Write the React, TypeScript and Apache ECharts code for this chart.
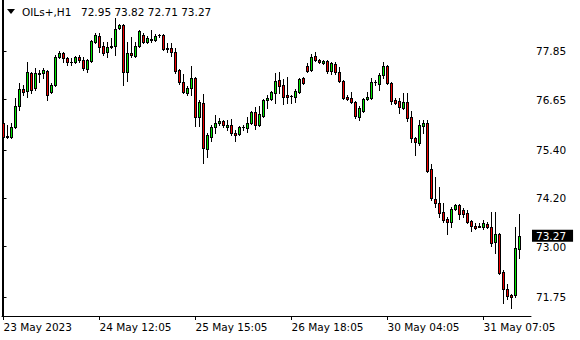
import React, { useEffect, useRef } from "react";
import * as echarts from "echarts";

const SYMBOL = "OILs+,H1";

const OPEN = [
  76.06, 75.72, 75.72, 75.97, 76.49, 76.91, 76.86, 77.30, 76.93, 77.30,
  77.30, 77.35, 76.83, 77.01, 77.70, 77.80, 77.68, 77.58, 77.58, 77.70,
  77.63, 77.40, 77.60, 78.07, 78.22, 77.97, 77.83, 77.95, 77.97, 78.42,
  78.50, 77.33, 77.80, 77.73, 77.97, 78.25, 78.07, 78.12, 78.12, 78.25,
  78.25, 77.92, 77.92, 77.83, 77.38, 77.08, 76.81, 76.93, 77.18, 76.21,
  76.56, 75.42, 75.72, 75.97, 76.06, 76.11, 75.97, 76.02, 75.82, 75.79,
  75.97, 75.94, 76.06, 76.34, 76.02, 76.24, 76.64, 76.66, 76.81, 77.13,
  77.01, 76.76, 76.73, 76.71, 76.83, 77.18, 77.48, 77.38, 77.73, 77.63,
  77.55, 77.60, 77.35, 77.53, 77.33, 77.11, 76.71, 76.68, 76.59, 76.21,
  76.36, 76.66, 76.68, 77.08, 77.03, 77.26, 77.48, 77.06, 76.64, 76.61,
  76.44, 76.59, 76.21, 75.69, 75.57, 75.99, 76.06, 74.92, 74.18, 74.08,
  73.86, 73.68, 73.61, 73.93, 74.03, 73.91, 73.83, 73.63, 73.51, 73.51,
  73.48, 73.56, 73.48, 73.11, 73.31, 72.37, 71.95, 71.80, 71.80, 72.95,
];

const HIGH = [
  76.08, 76.02, 76.06, 76.68, 77.06, 77.01, 77.58, 77.33, 77.43, 77.38,
  77.43, 77.38, 77.06, 77.75, 77.85, 77.83, 77.70, 77.68, 77.72, 77.75,
  77.70, 77.65, 78.12, 78.30, 78.30, 78.07, 78.07, 78.17, 78.67, 78.52,
  78.52, 78.07, 78.20, 78.07, 78.37, 78.30, 78.22, 78.37, 78.27, 78.27,
  78.27, 78.05, 78.05, 77.92, 77.40, 77.28, 76.98, 77.48, 77.21, 76.64,
  76.78, 75.82, 76.02, 76.26, 76.19, 76.14, 76.14, 76.16, 75.89, 75.99,
  76.02, 76.21, 76.36, 76.46, 76.49, 76.66, 76.76, 76.86, 77.30, 77.33,
  77.16, 77.21, 76.76, 76.91, 77.18, 77.21, 77.55, 77.78, 77.83, 77.65,
  77.63, 77.63, 77.58, 77.58, 77.45, 77.13, 76.76, 76.83, 76.61, 76.49,
  76.68, 76.83, 77.18, 77.13, 77.30, 77.58, 77.50, 77.08, 76.68, 76.68,
  76.81, 76.81, 76.36, 75.72, 76.14, 76.14, 76.14, 75.05, 74.72, 74.48,
  74.08, 73.73, 73.98, 74.05, 74.05, 73.96, 73.91, 73.65, 73.58, 73.58,
  73.66, 73.61, 73.86, 73.86, 73.34, 72.42, 72.07, 71.82, 73.48, 73.82,
];

const LOW = [
  75.64, 75.69, 75.70, 75.94, 76.39, 76.76, 76.71, 76.81, 76.88, 77.08,
  77.18, 76.64, 76.81, 76.98, 77.68, 77.58, 77.50, 77.50, 77.55, 77.58,
  77.38, 77.33, 77.58, 78.05, 77.83, 77.75, 77.70, 77.92, 77.75, 78.40,
  77.01, 77.11, 77.70, 77.70, 77.95, 78.05, 78.05, 78.07, 78.10, 78.20,
  77.88, 77.83, 77.73, 77.30, 77.03, 76.81, 76.76, 76.76, 75.99, 75.99,
  75.07, 75.22, 75.62, 75.82, 76.02, 75.97, 75.89, 75.77, 75.62, 75.77,
  75.89, 75.84, 76.04, 75.92, 75.99, 76.21, 76.44, 76.64, 76.56, 76.81,
  76.54, 76.56, 76.56, 76.59, 76.81, 77.03, 77.33, 77.35, 77.60, 77.55,
  77.53, 77.30, 77.28, 77.28, 77.08, 76.66, 76.64, 76.56, 76.19, 76.14,
  76.34, 76.64, 76.66, 77.01, 76.88, 77.18, 77.03, 76.54, 76.54, 76.31,
  76.41, 76.11, 75.59, 75.27, 75.52, 75.82, 74.85, 74.16, 73.98, 73.73,
  73.61, 73.31, 73.48, 73.91, 73.68, 73.73, 73.58, 73.39, 73.44, 73.48,
  73.44, 73.46, 73.01, 72.84, 72.32, 71.60, 71.70, 71.48, 71.75, 72.71,
];

const CLOSE = [
  75.72, 75.74, 75.97, 76.49, 76.91, 76.83, 77.33, 76.88, 77.30, 77.28,
  77.38, 76.76, 77.01, 77.70, 77.80, 77.68, 77.58, 77.57, 77.70, 77.63,
  77.43, 77.63, 78.10, 78.25, 77.95, 77.80, 77.95, 77.97, 78.40, 78.50,
  77.33, 77.80, 77.75, 77.97, 78.35, 78.07, 78.17, 78.15, 78.22, 78.24,
  77.90, 77.91, 77.83, 77.35, 77.08, 76.83, 76.93, 77.18, 76.21, 76.59,
  75.44, 75.77, 75.97, 76.06, 76.11, 76.02, 76.02, 75.82, 75.77, 75.97,
  75.98, 76.06, 76.34, 76.02, 76.29, 76.64, 76.68, 76.83, 77.11, 76.98,
  76.71, 76.71, 76.74, 76.86, 77.16, 77.06, 77.35, 77.70, 77.63, 77.58,
  77.60, 77.35, 77.55, 77.33, 77.11, 76.68, 76.66, 76.59, 76.24, 76.44,
  76.66, 76.71, 77.08, 77.09, 77.26, 77.48, 77.06, 76.61, 76.56, 76.46,
  76.59, 76.19, 75.69, 75.59, 76.02, 76.06, 74.87, 74.21, 74.08, 73.83,
  73.66, 73.61, 73.93, 74.03, 73.81, 73.81, 73.61, 73.51, 73.46, 73.50,
  73.58, 73.48, 73.09, 73.31, 72.35, 71.95, 71.77, 71.75, 72.97, 73.27,
];

const TIME_LABELS = ["23 May 2023", "24 May 12:05", "25 May 15:05", "26 May 18:05", "30 May 04:05", "31 May 07:05"];
const TIME_LABEL_BARS = [0, 24, 48, 72, 96, 120];
const PRICE_TICKS = [77.85, 76.65, 75.4, 74.2, 73.0, 71.75];

const FONT = "DejaVu Sans";
const BULL = "#00e600";
const BEAR = "#f00000";

export default function App() {
  const ref = useRef<HTMLDivElement>(null);

  useEffect(() => {
    if (!ref.current) return;
    const chart = echarts.init(ref.current, null, { renderer: "svg" });
    const last = CLOSE.length - 1;
    const data = OPEN.map((o, i) => [i, o, CLOSE[i], LOW[i], HIGH[i]]);
    const header = [OPEN[last], HIGH[last], LOW[last], CLOSE[last]].map((v) => v.toFixed(2)).join(" ");

    const px = (x: number, y: number, w: number, h: number, fill: string) => ({
      type: "rect",
      shape: { x, y, width: w, height: h },
      style: { fill, stroke: null, lineWidth: 0 },
      silent: true,
    });

    const renderItem = (params: any, api: any) => {
      const x = api.value(0);
      const o = api.value(1);
      const c = api.value(2);
      const l = api.value(3);
      const h = api.value(4);
      const pO = api.coord([x, o]);
      const pC = api.coord([x, c]);
      const pL = api.coord([x, l]);
      const pH = api.coord([x, h]);
      const cx = Math.round(pO[0] - 0.5);
      const yH = Math.round(pH[1]);
      const yL = Math.round(pL[1]);
      const yTop = Math.round(Math.min(pO[1], pC[1]));
      const yBot = Math.round(Math.max(pO[1], pC[1]));
      const bh = yBot - yTop + 1;
      const children: any[] = [];
      if (yTop > yH) children.push(px(cx, yH, 1, yTop - yH, "#000"));
      if (yL > yBot) children.push(px(cx, yBot + 1, 1, yL - yBot, "#000"));
      if (bh >= 3) {
        children.push(px(cx - 1, yTop, 3, bh, c >= o ? BULL : BEAR));
        children.push(px(cx - 1, yTop, 1, bh, "#000"));
        children.push(px(cx + 1, yTop, 1, bh, "#000"));
        children.push(px(cx, yTop, 1, 1, "#000"));
        children.push(px(cx, yBot, 1, 1, "#000"));
      } else {
        children.push(px(cx - 1, yTop, 3, bh, "#000"));
      }
      return { type: "group", children };
    };

    chart.setOption({
      animation: false,
      backgroundColor: "#fff",
      textStyle: { fontFamily: FONT },
      grid: { left: 2, right: 49, top: 0, bottom: 24 },
      xAxis: {
        type: "value",
        min: -0.375,
        max: 131.875,
        axisLine: { show: true, lineStyle: { color: "#000", width: 1 } },
        axisTick: {
          show: true,
          length: 4,
          customValues: TIME_LABEL_BARS,
          lineStyle: { color: "#000" },
        },
        axisLabel: {
          customValues: TIME_LABEL_BARS,
          formatter: (v: number) => {
            const k = TIME_LABEL_BARS.indexOf(Math.round(v));
            return k >= 0 ? TIME_LABELS[k] : "";
          },
          align: "left",
          color: "#000",
          fontFamily: FONT,
          fontSize: 10.5,
          margin: 5,
        },
        splitLine: { show: false },
      },
      yAxis: [
        {
          type: "value",
          position: "right",
          min: 71.28,
          max: 79.12,
          axisLine: { show: true, lineStyle: { color: "#000", width: 1 } },
          axisTick: {
            show: true,
            length: 3,
            customValues: PRICE_TICKS,
            lineStyle: { color: "#000" },
          },
          axisLabel: {
            customValues: PRICE_TICKS,
            formatter: (v: number) => v.toFixed(2),
            color: "#000",
            fontFamily: FONT,
            fontSize: 10.5,
            margin: 5,
          },
          splitLine: { show: false },
        },
        {
          type: "value",
          position: "left",
          min: 71.28,
          max: 79.12,
          axisLine: { show: true, lineStyle: { color: "#000", width: 1 } },
          axisTick: { show: false },
          axisLabel: { show: false },
          splitLine: { show: false },
        },
      ],
      series: [
        {
          type: "custom",
          data,
          encode: { x: 0, y: [1, 2, 3, 4] },
          renderItem,
          markLine: {
            silent: true,
            symbol: "none",
            animation: false,
            lineStyle: { color: "transparent", width: 0 },
            label: {
              show: true,
              position: "end",
              distance: 1,
              formatter: CLOSE[last].toFixed(2),
              backgroundColor: "#000",
              color: "#fff",
              fontFamily: FONT,
              fontSize: 10.5,
              padding: [1, 7, 0, 4],
            },
            data: [{ yAxis: CLOSE[last] }],
          },
        },
      ],
      graphic: [
        {
          type: "polygon",
          shape: { points: [[7, 9], [15, 9], [11, 14]] },
          style: { fill: "#000" },
        },
        {
          type: "text",
          x: 22,
          y: 12,
          style: { text: SYMBOL, fill: "#000", font: `10.5px '${FONT}'`, verticalAlign: "middle" },
        },
        {
          type: "text",
          x: 81,
          y: 12,
          style: { text: header, fill: "#000", font: `10.5px '${FONT}'`, verticalAlign: "middle" },
        },
      ],
    });

    return () => chart.dispose();
  }, []);

  return (
    <div
      ref={ref}
      style={{ position: "fixed", left: 0, top: 0, width: 580, height: 340, background: "#fff" }}
    />
  );
}
